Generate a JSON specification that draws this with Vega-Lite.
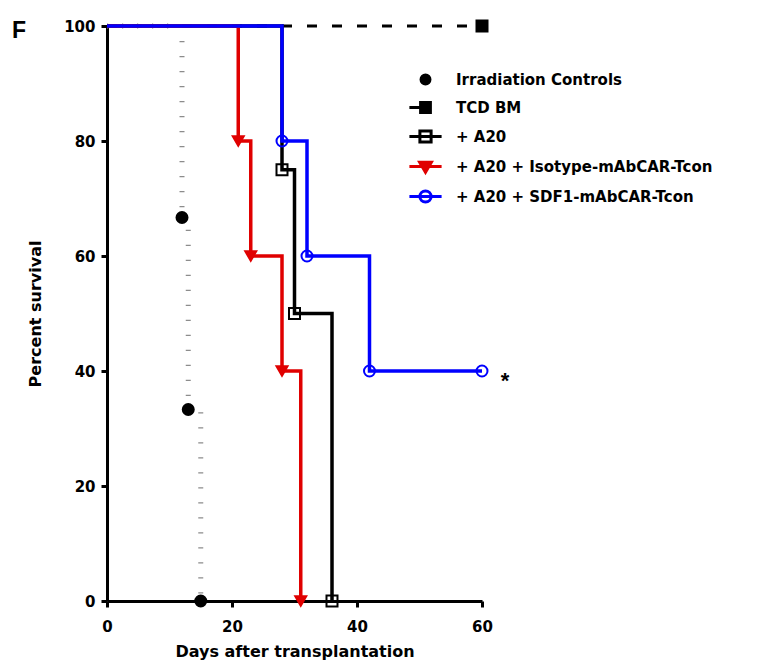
{
  "$schema": "https://vega.github.io/schema/vega-lite/v6.json",
  "width": 375,
  "height": 575,
  "autosize": {"type": "none"},
  "padding": {"left": 107, "top": 26, "right": 281, "bottom": 62},
  "background": "white",
  "title": {"text": "F", "anchor": "start", "frame": "group", "dx": -95, "dy": 45, "offset": 0, "baseline": "alphabetic", "font": "Liberation Sans", "fontSize": 23, "fontWeight": "bold", "color": "black"},
  "config": {
    "view": {"stroke": null},
    "axis": {"domainColor": "black", "domainWidth": 3, "tickColor": "black", "tickWidth": 3, "tickSize": 6, "labelFont": "DejaVu Sans", "labelFontWeight": "bold", "labelFontSize": 15, "labelColor": "black", "titleFont": "DejaVu Sans", "titleFontWeight": "bold", "titleFontSize": 16, "titleColor": "black", "grid": false, "labelFlush": false, "labelOverlap": false}
  },
  "datasets": {
    "surv": [
      {"group": "Irradiation Controls", "day": 0, "pct": 100},
      {"group": "Irradiation Controls", "day": 12, "pct": 66.7},
      {"group": "Irradiation Controls", "day": 13, "pct": 33.3},
      {"group": "Irradiation Controls", "day": 15, "pct": 0},
      {"group": "TCD BM", "day": 0, "pct": 100},
      {"group": "TCD BM", "day": 60, "pct": 100},
      {"group": "+ A20", "day": 0, "pct": 100},
      {"group": "+ A20", "day": 28, "pct": 75},
      {"group": "+ A20", "day": 30, "pct": 50},
      {"group": "+ A20", "day": 36, "pct": 0},
      {"group": "+ A20 + Isotype-mAbCAR-Tcon", "day": 0, "pct": 100},
      {"group": "+ A20 + Isotype-mAbCAR-Tcon", "day": 21, "pct": 80},
      {"group": "+ A20 + Isotype-mAbCAR-Tcon", "day": 23, "pct": 60},
      {"group": "+ A20 + Isotype-mAbCAR-Tcon", "day": 28, "pct": 40},
      {"group": "+ A20 + Isotype-mAbCAR-Tcon", "day": 31, "pct": 0},
      {"group": "+ A20 + SDF1-mAbCAR-Tcon", "day": 0, "pct": 100},
      {"group": "+ A20 + SDF1-mAbCAR-Tcon", "day": 28, "pct": 80},
      {"group": "+ A20 + SDF1-mAbCAR-Tcon", "day": 32, "pct": 60},
      {"group": "+ A20 + SDF1-mAbCAR-Tcon", "day": 42, "pct": 40},
      {"group": "+ A20 + SDF1-mAbCAR-Tcon", "day": 60, "pct": 40}
    ]
  },
  "data": {"name": "surv"},
  "encoding": {
    "x": {"field": "day", "type": "quantitative", "scale": {"domain": [0, 60], "nice": false}, "axis": {"values": [0, 20, 40, 60], "title": "Days after transplantation", "labelPadding": 12, "titlePadding": 9}},
    "y": {"field": "pct", "type": "quantitative", "scale": {"domain": [0, 100], "nice": false}, "axis": {"values": [0, 20, 40, 60, 80, 100], "title": "Percent survival", "labelPadding": 6, "titlePadding": 20}}
  },
  "layer": [
    {
      "transform": [{"filter": "datum.group == 'TCD BM'"}],
      "mark": {"type": "line", "interpolate": "step-after", "stroke": "black", "strokeWidth": 3, "strokeDash": [10, 15]}
    },
    {
      "transform": [{"filter": "datum.group == 'Irradiation Controls'"}],
      "mark": {"type": "line", "interpolate": "step-after", "stroke": "#8c8c8c", "strokeWidth": 5, "strokeDash": [1.2, 13.8], "strokeCap": "butt"}
    },
    {
      "transform": [{"filter": "datum.group == '+ A20'"}],
      "mark": {"type": "line", "interpolate": "step-after", "stroke": "black", "strokeWidth": 3.5}
    },
    {
      "transform": [{"filter": "datum.group == '+ A20 + Isotype-mAbCAR-Tcon'"}],
      "mark": {"type": "line", "interpolate": "step-after", "stroke": "#e00000", "strokeWidth": 3.5}
    },
    {
      "transform": [{"filter": "datum.group == '+ A20 + SDF1-mAbCAR-Tcon'"}],
      "mark": {"type": "line", "interpolate": "step-after", "stroke": "#0000ff", "strokeWidth": 3.5}
    },
    {
      "transform": [{"filter": "datum.day > 0"}],
      "mark": {"type": "point", "filled": true, "opacity": 1, "size": 121, "strokeWidth": 2},
      "encoding": {
        "shape": {"field": "group", "type": "nominal", "legend": null, "scale": {"domain": ["Irradiation Controls", "TCD BM", "+ A20", "+ A20 + Isotype-mAbCAR-Tcon", "+ A20 + SDF1-mAbCAR-Tcon"], "range": ["circle", "square", "square", "triangle-down", "circle"]}},
        "fill": {"field": "group", "type": "nominal", "legend": null, "scale": {"domain": ["Irradiation Controls", "TCD BM", "+ A20", "+ A20 + Isotype-mAbCAR-Tcon", "+ A20 + SDF1-mAbCAR-Tcon"], "range": ["black", "black", "transparent", "#e00000", "transparent"]}},
        "stroke": {"field": "group", "type": "nominal", "legend": null, "scale": {"domain": ["Irradiation Controls", "TCD BM", "+ A20", "+ A20 + Isotype-mAbCAR-Tcon", "+ A20 + SDF1-mAbCAR-Tcon"], "range": ["black", "black", "black", "#e00000", "#0000ff"]}}
      }
    },
    {
      "transform": [{"filter": "datum.day < 0"}],
      "mark": {"type": "point", "filled": true, "opacity": 1, "strokeWidth": 3},
      "encoding": {
        "shape": {"field": "group", "type": "nominal", "scale": {"domain": ["Irradiation Controls", "TCD BM", "+ A20", "+ A20 + Isotype-mAbCAR-Tcon", "+ A20 + SDF1-mAbCAR-Tcon"], "range": ["M-0.32,0A0.32,0.32,0,1,1,0.32,0A0.32,0.32,0,1,1,-0.32,0Z", "M-1.15,0H-0.35M-0.35,-0.35H0.35V0.35H-0.35Z", "M-1.15,0H1.15M-0.4,-0.4H0.4V0.4H-0.4Z", "M-1.15,0H1.15M-0.42,-0.3H0.42L0,0.42Z", "M-1.15,0H1.15M-0.4,0A0.4,0.4,0,1,1,0.4,0A0.4,0.4,0,1,1,-0.4,0Z"]}, "legend": {"orient": "none", "legendX": 303, "legendY": 38, "title": null, "symbolSize": 784, "symbolStrokeWidth": 3, "labelFont": "DejaVu Sans", "labelFontWeight": "bold", "labelFontSize": 15, "labelColor": "black", "labelLimit": 0, "labelOffset": 15, "rowPadding": 2}},
        "fill": {"field": "group", "type": "nominal", "scale": {"domain": ["Irradiation Controls", "TCD BM", "+ A20", "+ A20 + Isotype-mAbCAR-Tcon", "+ A20 + SDF1-mAbCAR-Tcon"], "range": ["black", "black", "transparent", "#e00000", "transparent"]}, "legend": {"orient": "none", "legendX": 303, "legendY": 38, "title": null, "symbolSize": 784, "symbolStrokeWidth": 3, "labelFont": "DejaVu Sans", "labelFontWeight": "bold", "labelFontSize": 15, "labelColor": "black", "labelLimit": 0, "labelOffset": 15, "rowPadding": 2}},
        "stroke": {"field": "group", "type": "nominal", "scale": {"domain": ["Irradiation Controls", "TCD BM", "+ A20", "+ A20 + Isotype-mAbCAR-Tcon", "+ A20 + SDF1-mAbCAR-Tcon"], "range": ["black", "black", "black", "#e00000", "#0000ff"]}, "legend": {"orient": "none", "legendX": 303, "legendY": 38, "title": null, "symbolSize": 784, "symbolStrokeWidth": 3, "labelFont": "DejaVu Sans", "labelFontWeight": "bold", "labelFontSize": 15, "labelColor": "black", "labelLimit": 0, "labelOffset": 15, "rowPadding": 2}}
      }
    },
    {
      "data": {"values": [{"day": 60, "pct": 40, "note": "*"}]},
      "mark": {"type": "text", "dx": 23, "dy": 17, "fontSize": 22, "font": "Liberation Sans", "fontWeight": "bold", "baseline": "alphabetic", "align": "center", "color": "black"},
      "encoding": {"text": {"field": "note", "type": "nominal"}}
    }
  ],
  "resolve": {"scale": {"shape": "independent", "fill": "independent", "stroke": "independent"}}
}
